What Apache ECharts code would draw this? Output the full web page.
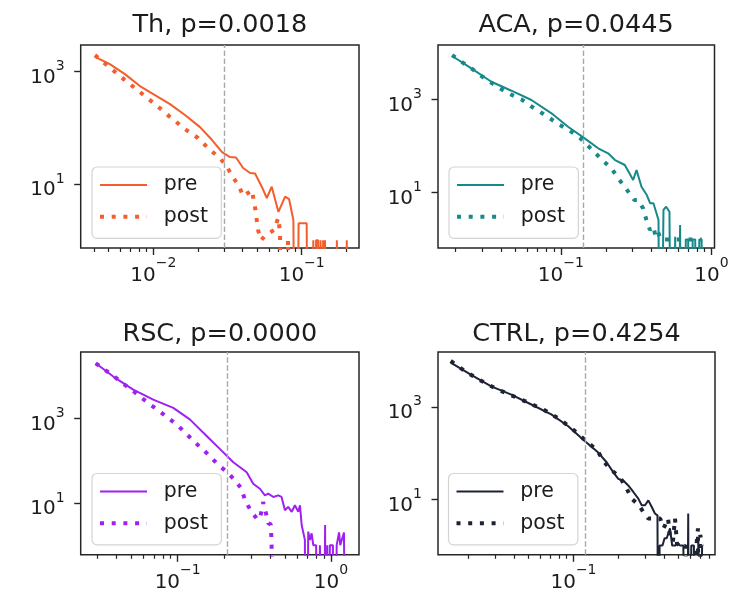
<!DOCTYPE html>
<html><head><meta charset="utf-8">
<script src="https://cdn.jsdelivr.net/npm/echarts@6/dist/echarts.min.js"></script>
<style>html,body{margin:0;padding:0;background:#fff}#c{width:756px;height:593px}</style>
</head><body><div id="c"></div>
<script>
// ---------- data ----------
const titles = ['Th, p=0.0018', 'ACA, p=0.0445', 'RSC, p=0.0000', 'CTRL, p=0.4254'];
const legendLabels = ['pre', 'post'];
const lineColors = ['#f45d2c', '#17898a', '#a021ef', '#1d2334'];

const thPreX = [0.00405, 0.0051, 0.00644, 0.00813, 0.01027, 0.01297, 0.01636, 0.02065, 0.0249, 0.02904, 0.0329, 0.0361, 0.0403, 0.0449, 0.0485, 0.0538, 0.0582, 0.0628, 0.0697, 0.0773, 0.0822, 0.0879, 0.0916, 0.0953, 0.108, 0.112, 0.117, 0.1197, 0.122, 0.125, 0.129, 0.131, 0.134, 0.1365, 0.1395, 0.1415, 0.1436, 0.146, 0.17, 0.1725, 0.175, 0.199, 0.2012, 0.2035];
const thPreY = [1840, 1365, 906, 555, 384, 265, 169, 103, 60.7, 37.1, 30.2, 29.7, 19.3, 15.7, 15.4, 8.95, 5.63, 8.95, 3.18, 5.95, 5.4, 2.29, 0, 2.0, 2.0, 0, 0, 1, 0, 1, 1, 0, 1, 0, 1, 0, 1, 0, 0, 1, 0, 0, 1, 0];
const thPostX = [0.00405, 0.0051, 0.00644, 0.00813, 0.01027, 0.01297, 0.01636, 0.02, 0.0241, 0.0282, 0.0314, 0.0344, 0.0378, 0.0403, 0.0434, 0.0462, 0.0488, 0.0508, 0.0532, 0.0575, 0.0652, 0.0694, 0.0715, 0.0726, 0.079, 0.0809, 0.083];
const thPostY = [1973, 1183, 708, 434, 265, 156, 95, 65.9, 40.3, 29, 20, 13.3, 9.2, 6.1, 6.9, 7.8, 3.44, 1.52, 1.0, 1.24, 1.52, 2.48, 1.4, 0, 0, 1, 0];

const acaPreX = [0.019, 0.0255, 0.0346, 0.047, 0.0638, 0.0867, 0.1117, 0.144, 0.177, 0.206, 0.229, 0.266, 0.302, 0.318, 0.343, 0.372, 0.392, 0.412, 0.445, 0.456, 0.48, 0.5, 0.526, 0.546, 0.574, 0.589, 0.619, 0.635, 0.66, 0.675, 0.7, 0.72, 0.75, 0.78, 0.8, 0.83, 0.86, 0.88];
const acaPreY = [8450, 4610, 2380, 1528, 966, 501, 259, 146, 89.3, 69.8, 50, 39.2, 18.7, 30.6, 13.4, 8.9, 5.93, 5.93, 2.6, 0, 4.27, 5.0, 3.92, 0, 1.14, 0, 2.03, 0, 0, 1, 1, 0, 1, 1, 0, 1, 1, 0];
const acaPostX = [0.019, 0.0219, 0.0255, 0.0297, 0.0338, 0.0394, 0.0458, 0.0547, 0.0631, 0.0726, 0.0845, 0.0984, 0.1148, 0.1337, 0.152, 0.17, 0.191, 0.217, 0.24, 0.266, 0.29, 0.307, 0.326, 0.352, 0.37, 0.39, 0.41, 0.425, 0.44, 0.46, 0.5, 0.55, 0.6, 0.65, 0.7, 0.75, 0.8, 0.86];
const acaPostY = [8870, 6380, 4610, 3155, 2380, 1722, 1297, 1000, 719, 542, 392, 282, 213, 150, 100, 70, 47.8, 33.3, 20.3, 13.4, 9, 7.0, 7.0, 4.6, 2.6, 1.6, 1.9, 1.2, 1.5, 1, 1, 1, 1, 1, 1, 1, 1, 1];

const rscPreX = [0.0292, 0.038, 0.0513, 0.0693, 0.0936, 0.12, 0.1545, 0.189, 0.2307, 0.282, 0.311, 0.344, 0.371, 0.39, 0.421, 0.453, 0.476, 0.501, 0.526, 0.555, 0.582, 0.612, 0.628, 0.644, 0.676, 0.687, 0.711, 0.73, 0.748, 0.767, 0.8, 0.82, 0.847, 0.87, 0.89, 0.916, 0.93, 0.946, 0.96, 0.984, 1.0, 1.03, 1.05, 1.09, 1.13, 1.15, 1.175, 1.216, 1.25];
const rscPreY = [20140, 9770, 4780, 2780, 1778, 946, 384, 187, 91.4, 53.3, 28.3, 21.6, 15.1, 16.5, 13.8, 15.1, 13.8, 6.7, 8.05, 6.15, 8.8, 6.15, 8.8, 3.0, 1.33, 0, 2.09, 1.33, 1.9, 1.0, 1, 0, 1, 1, 0, 3, 0, 1, 0, 1, 1, 1, 0, 1, 2, 1, 1, 2, 0];
const rscPostX = [0.0292, 0.0336, 0.039, 0.0442, 0.0508, 0.0582, 0.0676, 0.0774, 0.0881, 0.101, 0.1146, 0.1298, 0.147, 0.165, 0.184, 0.211, 0.237, 0.261, 0.275, 0.299, 0.327, 0.344, 0.361, 0.377, 0.39, 0.405, 0.408, 0.41, 0.412];
const rscPostY = [20140, 14030, 9460, 6590, 4590, 3050, 2014, 1403, 981, 659, 421, 269, 180, 120, 79, 53.3, 33.9, 21.6, 11.5, 6.7, 4.3, 4.1, 10.5, 5.6, 3.3, 3.1, 1.7, 1.0, 0];

const ctrlPreX = [0.0152, 0.0208, 0.0283, 0.0385, 0.0524, 0.0711, 0.0919, 0.1188, 0.1456, 0.1663, 0.184, 0.199, 0.2148, 0.2317, 0.2506, 0.2704, 0.285, 0.3, 0.3155, 0.332, 0.349, 0.363, 0.369, 0.375, 0.392, 0.405, 0.418, 0.44, 0.455, 0.475, 0.495, 0.513, 0.54, 0.565, 0.582, 0.59, 0.61, 0.635, 0.65, 0.68, 0.7, 0.72];
const ctrlPreY = [9020, 4920, 2760, 1832, 1120, 684, 385, 183, 103.6, 63.2, 38.6, 27.7, 25.5, 19.95, 14.4, 10.35, 7.45, 7.45, 9.5, 6.9, 4.94, 4.5, 0, 1, 1, 1.44, 1.44, 2.36, 1, 1, 1.1, 1, 1, 0, 4.94, 0, 1, 1, 0, 1.5, 0, 1];
const ctrlPostX = [0.0152, 0.0192, 0.0242, 0.0304, 0.0389, 0.0498, 0.0646, 0.0813, 0.1007, 0.1194, 0.1436, 0.158, 0.175, 0.204, 0.2265, 0.2443, 0.261, 0.277, 0.2917, 0.3155, 0.332, 0.349, 0.378, 0.4, 0.427, 0.44, 0.46, 0.475, 0.49, 0.51, 0.53, 0.56, 0.6, 0.63, 0.66, 0.676, 0.69, 0.7, 0.72];
const ctrlPostY = [9770, 5700, 3655, 2465, 1746, 1236, 834, 535, 311, 190, 116, 68.4, 45.4, 30.2, 16.9, 10.35, 8.5, 6.9, 5.37, 3.86, 3.86, 3.9, 3.86, 2.4, 3.86, 1.5, 1.2, 3.86, 1.1, 1.0, 0.9, 1, 0, 0, 1, 2.36, 0, 1.7, 1];

const thresholds = [0.0316, 0.1445, 0.212, 0.117];
const xMajorTicks = [[0.01, 0.1], [0.1, 1], [0.1, 1], [0.1]];
const yMajorTicks = [10, 1000];
const xRanges = [[0.003245, 0.2432], [0.01531, 1.047], [0.0233, 1.524], [0.0125, 0.8778]];
const yRanges = [[0.7247, 2989], [0.6546, 14555], [0.5907, 37240], [0.632, 15280]];

const panels = [
  [thPreX, thPreY, thPostX, thPostY],
  [acaPreX, acaPreY, acaPostX, acaPostY],
  [rscPreX, rscPreY, rscPostX, rscPostY],
  [ctrlPreX, ctrlPreY, ctrlPostX, ctrlPostY]
];

// ---------- layout ----------
const grids = [
  {left: 80.7, top: 45, width: 278.3, height: 203},
  {left: 438, top: 45, width: 276.5, height: 203},
  {left: 80.7, top: 352, width: 278.3, height: 204.7},
  {left: 438, top: 352, width: 277, height: 204.7}
];
const titlePos = [[219.8, 12], [576, 12], [219.8, 321.5], [576.5, 321.5]];
const legendPos = [[92, 167], [449, 167], [92, 473.5], [448.5, 473.5]];

const FONT = 'DejaVu Sans';
const TXT = '#1c1c1c';
const AX = '#262626';
const ZERO_FLOOR = 1e-6; // zero counts clipped below the axis, like a log plot
const pair = (xs, ys) => xs.map((x, i) => [x, ys[i] > 0 ? ys[i] : ZERO_FLOOR]);

function minorTicks(min, max) {
  const out = [];
  for (let e = Math.floor(Math.log10(min)); e <= Math.ceil(Math.log10(max)); e++) {
    for (let k = 2; k <= 9; k++) {
      const v = +(k * Math.pow(10, e)).toPrecision(6);
      if (v >= min && v <= max) out.push(v);
    }
  }
  return out;
}
function powLabel(v) {
  const e = Math.round(Math.log10(v));
  return '{b|10}{s|' + (e < 0 ? '\u2212' + (-e) : String(e)) + '}';
}

const xAxes = [], yAxes = [], series = [], legends = [], titleOpts = [];
for (let i = 0; i < 4; i++) {
  const [xmin, xmax] = xRanges[i];
  xAxes.push({
    type: 'log', gridIndex: i, position: 'bottom', min: xmin, max: xmax,
    axisLine: {show: false}, splitLine: {show: false}, minorTick: {show: false},
    axisTick: {show: true, length: 7, lineStyle: {color: AX, width: 1.4}, customValues: xMajorTicks[i]},
    axisLabel: {
      customValues: xMajorTicks[i], margin: 8.2, formatter: powLabel,
      rich: {
        b: {fontFamily: FONT, fontSize: 20, color: TXT, lineHeight: 30, verticalAlign: 'bottom'},
        s: {fontFamily: FONT, fontSize: 14, color: TXT, lineHeight: 14, verticalAlign: 'top'}
      }
    }
  });
  xAxes.push({
    type: 'log', gridIndex: i, position: 'bottom', offset: 0, min: xmin, max: xmax,
    axisLine: {show: false}, splitLine: {show: false}, axisLabel: {show: false},
    axisTick: {show: true, length: 4, lineStyle: {color: AX, width: 1.2}, customValues: minorTicks(xmin, xmax)}
  });
  yAxes.push({
    type: 'log', gridIndex: i, position: 'left', min: yRanges[i][0], max: yRanges[i][1],
    axisLine: {show: false}, splitLine: {show: false}, minorTick: {show: false},
    axisTick: {show: true, length: 6.5, lineStyle: {color: AX, width: 1.4}, customValues: yMajorTicks},
    axisLabel: {
      customValues: yMajorTicks, margin: 16, formatter: powLabel, padding: [4, 0, 0, 0],
      rich: {
        b: {fontFamily: FONT, fontSize: 20, color: TXT, lineHeight: 28, verticalAlign: 'bottom'},
        s: {fontFamily: FONT, fontSize: 14, color: TXT, lineHeight: 14, verticalAlign: 'top'}
      }
    }
  });
  const [px, py, qx, qy] = panels[i];
  const c = lineColors[i];
  series.push({
    type: 'line', name: 'pre|' + i, xAxisIndex: 2 * i, yAxisIndex: i,
    data: pair(px, py), symbol: 'none', clip: true, z: 3,
    color: c, lineStyle: {color: c, width: 2},
    markLine: {
      silent: true, symbol: ['none', 'none'], label: {show: false}, animation: false,
      lineStyle: {color: '#a9a9a9', type: [5.5, 2.5], width: 1.4},
      data: [{xAxis: thresholds[i]}]
    }
  });
  series.push({
    type: 'line', name: 'post|' + i, xAxisIndex: 2 * i, yAxisIndex: i,
    data: pair(qx, qy), symbol: 'none', clip: true, z: 4,
    color: c, lineStyle: {color: c, width: 4, type: [4, 7.7], cap: 'butt'}
  });
  legends.push({
    left: legendPos[i][0], top: legendPos[i][1], orient: 'vertical',
    padding: [7, 13.4, 10.6, 6], itemGap: 9.7, itemWidth: 47, itemHeight: 14,
    backgroundColor: 'rgba(255,255,255,0.8)', borderColor: '#d4d4d4', borderWidth: 1.2, borderRadius: 5,
    selectedMode: false, itemStyle: {opacity: 0},
    formatter: n => n.split('|')[0],
    textStyle: {fontFamily: FONT, fontSize: 20.5, color: TXT, lineHeight: 22, padding: [0, 0, 0, 11.7]},
    data: [
      {name: 'pre|' + i, lineStyle: {color: c, width: 2}},
      {name: 'post|' + i, lineStyle: {color: c, width: 4, type: [4, 7.7], cap: 'butt'}}
    ]
  });
  titleOpts.push({
    text: titles[i], left: titlePos[i][0], top: titlePos[i][1], textAlign: 'center', padding: 0,
    textStyle: {fontFamily: FONT, fontSize: 25.5, fontWeight: 'normal', color: TXT}
  });
}

const chart = echarts.init(document.getElementById('c'), null, {renderer: 'canvas'});
chart.setOption({
  animation: false,
  backgroundColor: '#ffffff',
  title: titleOpts,
  grid: grids.map(g => Object.assign({show: true, borderColor: AX, borderWidth: 1.5, backgroundColor: 'transparent', containLabel: false}, g)),
  xAxis: xAxes,
  yAxis: yAxes,
  legend: legends,
  series: series
});
</script>
</body></html>
